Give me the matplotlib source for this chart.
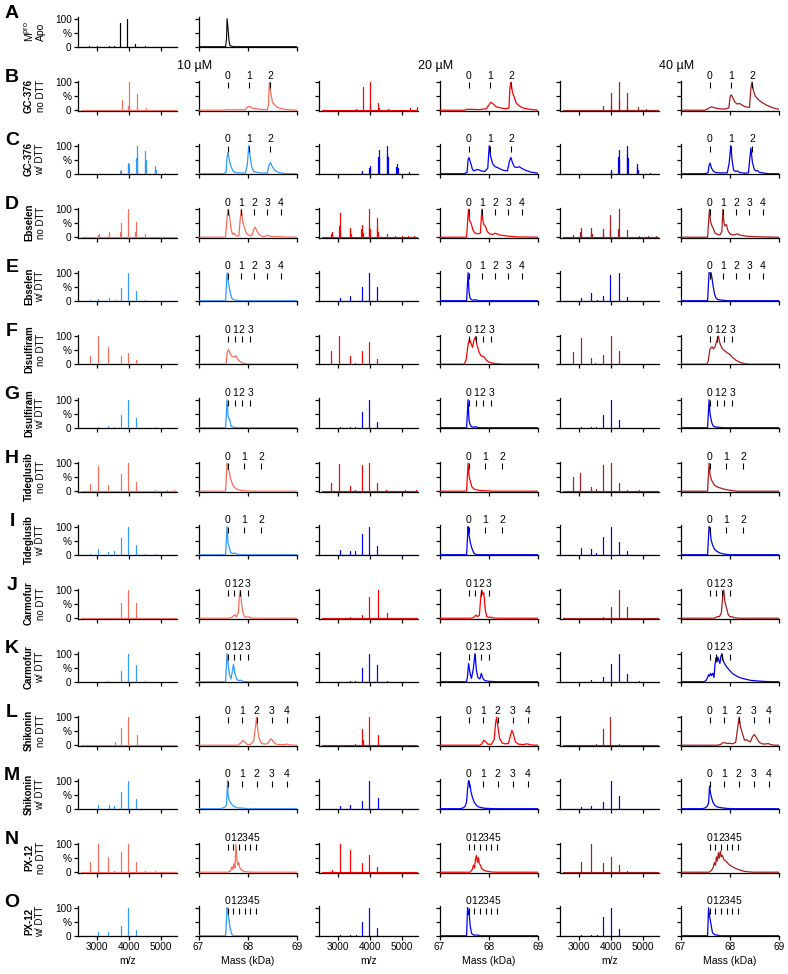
import matplotlib
matplotlib.use("Agg")
import matplotlib.pyplot as plt

plt.rcParams["font.family"] = ["Liberation Sans", "DejaVu Sans"]
plt.rcParams["mathtext.fontset"] = "custom"
plt.rcParams["mathtext.rm"] = "Liberation Sans"

# ---- m/z sticks: (m/z, rel. intensity %) ; deconvoluted: (mass kDa, %) ----
A_mz = [(2740, 1), (3000, 4), (3362, 2), (3531, 2), (3728, 85), (3937, 100), (4197, 11), (4500, 1)]
A_ms = [(67.0, 0), (67.55, 0), (67.57, 30), (67.58, 100), (67.6, 65), (67.62, 20), (67.64, 4), (67.66, 3), (67.7, 0), (69.0, 0)]

# GC-376 no DTT
B_mz10 = [(2700, 1), (3560, 2), (3783, 35), (3985, 14), (4000, 100), (4245, 58), (4260, 10), (4550, 8), (4900, 2), (5200, 1)]
B_ms10 = [(67.0, 0), (67.5, 0), (67.58, 2), (67.65, 1), (67.95, 2), (68.0, 12), (68.04, 14), (68.08, 8), (68.15, 6), (68.25, 3),
          (68.4, 2), (68.42, 20), (68.44, 100), (68.46, 70), (68.5, 30), (68.55, 18), (68.6, 10), (68.7, 5), (68.8, 2), (69.0, 0)]
B_mz20 = [(2900, 1), (3580, 5), (3783, 84), (4000, 100), (4020, 14), (4261, 27), (4280, 8), (4580, 3), (4900, 2), (5261, 8), (5493, 10)]
B_ms20 = [(67.0, 0), (67.5, 0), (67.55, 3), (67.65, 3), (67.8, 2), (67.95, 5), (68.0, 18), (68.04, 28), (68.08, 24), (68.15, 12),
          (68.25, 8), (68.35, 5), (68.41, 8), (68.43, 80), (68.45, 100), (68.48, 65), (68.52, 45), (68.56, 25), (68.62, 15),
          (68.7, 8), (68.8, 4), (68.9, 2), (69.0, 0)]
B_mz40 = [(2800, 1), (3768, 14), (4000, 20), (4014, 63), (4245, 35), (4261, 100), (4510, 15), (4522, 60), (4870, 12), (5116, 3)]
B_ms40 = [(67.0, 0), (67.5, 0), (67.55, 5), (67.6, 10), (67.63, 12), (67.7, 8), (67.8, 5), (67.9, 4), (67.98, 8), (68.01, 50),
          (68.03, 55), (68.06, 45), (68.1, 30), (68.15, 22), (68.2, 24), (68.25, 18), (68.32, 12), (68.4, 10), (68.43, 80),
          (68.45, 100), (68.48, 70), (68.52, 50), (68.58, 38), (68.65, 28), (68.75, 18), (68.85, 10), (68.95, 5), (69.0, 3)]

# GC-376 w/ DTT
C_mz10 = [(3730, 8), (3750, 14), (3965, 30), (3985, 37), (4005, 35), (4225, 55), (4245, 100), (4265, 60), (4500, 40),
          (4522, 81), (4540, 50), (4810, 15), (4826, 26), (4845, 12), (5150, 2)]
C_ms10 = [(67.0, 0), (67.5, 0), (67.56, 5), (67.58, 60), (67.6, 75), (67.62, 55), (67.65, 30), (67.7, 10), (67.75, 4), (67.85, 3),
          (67.95, 2), (67.99, 30), (68.02, 100), (68.05, 60), (68.08, 25), (68.12, 8), (68.2, 4), (68.3, 2), (68.4, 3),
          (68.43, 30), (68.46, 40), (68.5, 25), (68.55, 12), (68.62, 5), (68.7, 2), (68.8, 0), (69.0, 0)]
C_mz20 = [(3740, 5), (3754, 8), (3980, 20), (4000, 28), (4020, 22), (4255, 60), (4275, 86), (4295, 55), (4530, 70),
          (4551, 100), (4570, 60), (4835, 25), (4855, 35), (4875, 20), (5232, 5)]
C_ms20 = [(67.0, 0), (67.5, 0), (67.56, 5), (67.58, 50), (67.6, 58), (67.63, 40), (67.67, 15), (67.7, 10), (67.75, 14),
          (67.78, 15), (67.85, 10), (67.92, 8), (67.98, 20), (68.01, 100), (68.04, 60), (68.08, 35), (68.13, 25), (68.18, 22),
          (68.22, 18), (68.3, 12), (68.38, 10), (68.42, 45), (68.45, 58), (68.48, 40), (68.52, 25), (68.57, 22), (68.62, 25),
          (68.68, 18), (68.75, 12), (68.85, 6), (68.95, 3), (69.0, 2)]
C_mz40 = [(3990, 8), (4000, 14), (4230, 60), (4246, 86), (4262, 50), (4505, 70), (4522, 100), (4540, 55), (4810, 25),
          (4826, 35), (4845, 15), (5232, 3)]
C_ms40 = [(67.0, 0), (67.5, 0), (67.56, 4), (67.58, 30), (67.6, 38), (67.63, 20), (67.67, 8), (67.72, 4), (67.8, 3), (67.95, 3),
          (67.99, 40), (68.02, 100), (68.05, 45), (68.08, 12), (68.12, 8), (68.16, 10), (68.2, 4), (68.3, 2), (68.38, 3),
          (68.41, 60), (68.43, 92), (68.46, 40), (68.5, 15), (68.53, 10), (68.56, 12), (68.6, 5), (68.7, 2), (68.8, 0), (69.0, 0)]

# Ebselen no DTT
D_mz10 = [(2800, 1), (3040, 8), (3058, 12), (3362, 15), (3377, 20), (3725, 20), (3739, 49), (3970, 25), (3986, 100),
          (4200, 20), (4217, 53), (4522, 12), (4800, 2)]
D_ms10 = [(67.0, 0), (67.55, 0), (67.58, 70), (67.6, 100), (67.63, 75), (67.66, 30), (67.69, 10), (67.72, 15), (67.76, 5),
          (67.82, 5), (67.85, 70), (67.87, 100), (67.9, 55), (67.94, 30), (67.98, 12), (68.02, 8), (68.08, 5), (68.12, 28),
          (68.15, 36), (68.19, 20), (68.24, 8), (68.3, 3), (68.36, 3), (68.4, 8), (68.44, 4), (68.5, 2), (68.6, 2), (68.75, 1), (69.0, 0)]
D_mz20 = [(2780, 12), (2797, 20), (2815, 8), (3040, 40), (3058, 85), (3075, 30), (3360, 25), (3377, 34), (3395, 12),
          (3735, 30), (3754, 44), (3770, 15), (3970, 40), (3986, 100), (4000, 30), (4215, 35), (4232, 67), (4250, 20),
          (4536, 10), (4800, 3), (5000, 3), (5200, 3), (5400, 3)]
D_ms20 = [(67.0, 0), (67.55, 0), (67.58, 80), (67.59, 100), (67.61, 60), (67.63, 55), (67.65, 45), (67.68, 25), (67.72, 15),
          (67.78, 12), (67.83, 15), (67.86, 100), (67.88, 60), (67.9, 45), (67.93, 40), (67.97, 20), (68.02, 12), (68.08, 10),
          (68.13, 14), (68.17, 12), (68.22, 8), (68.3, 6), (68.38, 4), (68.46, 3), (68.6, 1), (69.0, 0)]
D_mz40 = [(2812, 8), (3040, 20), (3058, 34), (3075, 12), (3360, 20), (3377, 32), (3395, 10), (3740, 15), (3754, 28),
          (3970, 30), (3986, 81), (4230, 30), (4246, 100), (4522, 26), (4899, 4), (5159, 3), (5406, 4)]
D_ms40 = [(67.0, 0), (67.55, 0), (67.58, 80), (67.59, 100), (67.61, 55), (67.64, 40), (67.67, 30), (67.7, 15), (67.75, 10),
          (67.8, 8), (67.84, 20), (67.86, 98), (67.88, 55), (67.9, 40), (67.93, 45), (67.97, 20), (68.02, 10), (68.08, 8),
          (68.12, 10), (68.16, 12), (68.2, 8), (68.28, 5), (68.38, 3), (68.5, 2), (68.7, 1), (69.0, 0)]

# Ebselen w/ DTT
E_mz10 = [(2780, 1), (3029, 5), (3362, 8), (3550, 2), (3739, 44), (3986, 100), (4217, 34), (4500, 1)]
E_ms10 = [(67.0, 0), (67.55, 0), (67.58, 100), (67.6, 75), (67.62, 50), (67.65, 25), (67.68, 8), (67.72, 3), (67.8, 1), (67.9, 0), (69.0, 0)]
E_mz20 = [(3058, 8), (3377, 16), (3754, 49), (3986, 100), (4232, 49)]
E_ms20 = [(67.0, 0), (67.55, 0), (67.58, 100), (67.6, 30), (67.62, 10), (67.65, 3), (67.7, 2), (67.73, 4), (67.76, 1), (67.8, 0), (69.0, 0)]
E_mz40 = [(3058, 11), (3377, 26), (3550, 3), (3754, 18), (3986, 91), (4246, 100), (4522, 13)]
E_ms40 = [(67.0, 0), (67.55, 0), (67.58, 100), (67.6, 98), (67.62, 100), (67.64, 80), (67.66, 55), (67.69, 25), (67.72, 10),
          (67.76, 4), (67.85, 2), (67.95, 0), (69.0, 0)]

# Disulfiram no DTT
F_mz10 = [(2783, 29), (3029, 100), (3348, 62), (3739, 29), (3986, 40), (4217, 14)]
F_ms10 = [(67.0, 0), (67.56, 0), (67.58, 40), (67.61, 53), (67.64, 38), (67.68, 28), (67.72, 25), (67.76, 30), (67.79, 20),
          (67.84, 10), (67.9, 4), (67.96, 2), (68.05, 0), (69.0, 0)]
F_mz20 = [(2783, 48), (3043, 100), (3362, 28), (3522, 5), (3754, 47), (3986, 79), (4232, 19)]
F_ms20 = [(67.0, 0), (67.5, 0), (67.54, 15), (67.58, 70), (67.61, 90), (67.64, 75), (67.67, 60), (67.7, 85), (67.73, 98),
          (67.76, 70), (67.8, 45), (67.84, 30), (67.9, 27), (67.95, 15), (68.0, 8), (68.07, 4), (68.15, 2), (68.3, 0), (69.0, 0)]
F_mz40 = [(2797, 44), (3058, 93), (3377, 21), (3500, 3), (3754, 33), (4000, 100), (4246, 47)]
F_ms40 = [(67.0, 0), (67.53, 0), (67.56, 10), (67.6, 55), (67.64, 62), (67.67, 55), (67.7, 62), (67.74, 85), (67.77, 100),
          (67.8, 75), (67.84, 58), (67.88, 50), (67.94, 42), (68.0, 35), (68.05, 25), (68.12, 15), (68.2, 7), (68.3, 2), (68.4, 0), (69.0, 0)]

# Disulfiram w/ DTT
G_mz10 = [(3029, 3), (3348, 6), (3536, 3), (3739, 44), (3986, 100), (4217, 34), (4826, 3)]
G_ms10 = [(67.0, 0), (67.55, 0), (67.58, 100), (67.6, 40), (67.62, 32), (67.64, 25), (67.66, 5), (67.7, 2), (67.75, 1), (67.8, 0), (69.0, 0)]
G_mz20 = [(3058, 2), (3377, 3), (3536, 3), (3754, 55), (3986, 100), (4232, 22)]
G_ms20 = [(67.0, 0), (67.55, 0), (67.58, 100), (67.6, 25), (67.62, 12), (67.65, 3), (67.7, 2), (67.74, 4), (67.77, 1), (67.8, 0), (69.0, 0)]
G_mz40 = [(3058, 3), (3377, 4), (3536, 2), (3754, 44), (4000, 100), (4246, 26)]
G_ms40 = [(67.0, 0), (67.55, 0), (67.58, 100), (67.6, 50), (67.62, 30), (67.64, 15), (67.67, 5), (67.7, 3), (67.8, 1), (67.9, 0), (69.0, 0)]

# Tideglusib no DTT
H_mz10 = [(2783, 26), (3029, 91), (3348, 22), (3739, 61), (3986, 100), (4232, 33), (4522, 2), (4826, 3), (5203, 4), (5420, 5)]
H_ms10 = [(67.0, 0), (67.55, 0), (67.58, 100), (67.6, 80), (67.62, 75), (67.65, 45), (67.68, 30), (67.72, 15), (67.77, 8),
          (67.85, 3), (67.95, 1), (68.1, 0), (69.0, 0)]
H_mz20 = [(2783, 28), (3043, 96), (3362, 20), (3522, 5), (3754, 95), (3986, 100), (4232, 29), (4522, 3), (5100, 3), (5450, 5)]
H_ms20 = [(67.0, 0), (67.55, 0), (67.58, 100), (67.6, 55), (67.63, 32), (67.66, 15), (67.7, 8), (67.75, 5), (67.8, 3),
          (67.9, 2), (68.0, 1), (68.1, 0), (69.0, 0)]
H_mz40 = [(2797, 49), (3043, 64), (3362, 14), (3536, 7), (3754, 94), (4000, 100), (4246, 28), (4500, 3), (4899, 3)]
H_ms40 = [(67.0, 0), (67.55, 0), (67.58, 100), (67.6, 60), (67.63, 40), (67.66, 30), (67.7, 20), (67.75, 15), (67.8, 12),
          (67.87, 8), (67.95, 5), (68.05, 2), (68.15, 0), (69.0, 0)]

# Tideglusib w/ DTT
I_mz10 = [(2783, 2), (3029, 19), (3348, 9), (3536, 12), (3739, 59), (3986, 100), (4217, 36), (4522, 2), (4826, 3)]
I_ms10 = [(67.0, 0), (67.55, 0), (67.58, 100), (67.6, 40), (67.62, 30), (67.65, 8), (67.69, 4), (67.73, 6), (67.77, 3), (67.85, 0), (69.0, 0)]
I_mz20 = [(3058, 17), (3377, 13), (3536, 13), (3754, 73), (3986, 100), (4232, 30)]
I_ms20 = [(67.0, 0), (67.55, 0), (67.58, 100), (67.59, 80), (67.61, 60), (67.63, 40), (67.66, 22), (67.7, 5), (67.75, 0), (69.0, 0)]
I_mz40 = [(3058, 23), (3377, 22), (3536, 5), (3754, 64), (4000, 100), (4246, 47), (4522, 12)]
I_ms40 = [(67.0, 0), (67.55, 0), (67.58, 100), (67.6, 95), (67.62, 55), (67.65, 35), (67.69, 20), (67.74, 12), (67.8, 6),
          (67.9, 2), (68.0, 0), (69.0, 0)]

# Carmofur no DTT
J_mz10 = [(3400, 1), (3739, 53), (3986, 100), (4232, 53), (4522, 2)]
J_ms10 = [(67.0, 0), (67.6, 0), (67.68, 3), (67.72, 10), (67.74, 12), (67.77, 5), (67.81, 20), (67.83, 80), (67.85, 100),
          (67.87, 60), (67.9, 20), (67.94, 5), (67.99, 4), (68.02, 5), (68.06, 1), (68.15, 0), (69.0, 0)]
J_mz20 = [(3377, 3), (3754, 11), (3986, 76), (4246, 100), (4551, 18)]
J_ms20 = [(67.0, 0), (67.65, 0), (67.7, 4), (67.74, 11), (67.77, 6), (67.81, 10), (67.84, 80), (67.86, 100), (67.88, 85),
          (67.9, 90), (67.93, 30), (67.96, 5), (68.0, 3), (68.04, 4), (68.1, 1), (68.2, 0), (69.0, 0)]
J_mz40 = [(3754, 6), (4000, 40), (4246, 100), (4522, 40)]
J_ms40 = [(67.0, 0), (67.68, 0), (67.72, 3), (67.75, 6), (67.79, 5), (67.83, 20), (67.86, 85), (67.88, 100), (67.9, 60),
          (67.93, 40), (67.97, 12), (68.01, 5), (68.04, 6), (68.08, 2), (68.2, 0), (69.0, 0)]

# Carmofur w/ DTT
K_mz10 = [(3348, 2), (3739, 38), (3986, 100), (4232, 60), (4522, 3)]
K_ms10 = [(67.0, 0), (67.55, 0), (67.58, 100), (67.6, 65), (67.63, 25), (67.66, 10), (67.69, 40), (67.71, 62), (67.74, 30),
          (67.77, 12), (67.8, 5), (67.84, 4), (67.86, 6), (67.9, 1), (68.0, 0), (69.0, 0)]
K_mz20 = [(3377, 2), (3536, 2), (3754, 49), (3986, 100), (4232, 59), (4551, 3)]
K_ms20 = [(67.0, 0), (67.55, 0), (67.57, 20), (67.59, 65), (67.62, 30), (67.65, 12), (67.69, 50), (67.72, 100), (67.75, 40),
          (67.78, 15), (67.82, 10), (67.85, 30), (67.88, 12), (67.92, 4), (67.98, 2), (68.05, 1), (68.15, 0), (69.0, 0)]
K_mz40 = [(3377, 5), (3754, 17), (4000, 64), (4246, 100), (4522, 26), (4899, 2)]
K_ms40 = [(67.0, 0), (67.48, 0), (67.52, 5), (67.55, 15), (67.57, 25), (67.59, 20), (67.61, 30), (67.63, 22), (67.66, 30),
          (67.68, 15), (67.7, 60), (67.72, 85), (67.74, 70), (67.76, 88), (67.78, 75), (67.8, 65), (67.82, 90), (67.84, 100),
          (67.86, 80), (67.88, 70), (67.91, 60), (67.95, 50), (68.0, 40), (68.05, 30), (68.12, 22), (68.2, 15), (68.3, 10),
          (68.42, 5), (68.55, 3), (68.7, 1), (68.85, 0), (69.0, 0)]

# Shikonin no DTT
L_mz10 = [(3377, 2), (3565, 12), (3768, 62), (3986, 100), (4246, 38), (4522, 1)]
L_ms10 = [(67.0, 0), (67.8, 0), (67.86, 8), (67.9, 17), (67.94, 12), (67.99, 3), (68.05, 2), (68.12, 15), (68.16, 70),
          (68.18, 100), (68.2, 60), (68.23, 25), (68.27, 8), (68.33, 4), (68.4, 5), (68.45, 18), (68.48, 23), (68.52, 12),
          (68.57, 4), (68.65, 2), (68.75, 2), (68.8, 4), (68.85, 1), (69.0, 0)]
L_mz20 = [(3522, 4), (3754, 58), (3770, 20), (3986, 100), (4246, 38)]
L_ms20 = [(67.0, 0), (67.82, 0), (67.86, 5), (67.9, 18), (67.94, 12), (67.98, 4), (68.05, 3), (68.11, 20), (68.14, 80),
          (68.16, 100), (68.19, 60), (68.22, 25), (68.27, 8), (68.33, 5), (68.4, 6), (68.44, 35), (68.47, 53), (68.5, 40),
          (68.54, 12), (68.6, 4), (68.7, 2), (68.77, 5), (68.8, 4), (68.85, 1), (69.0, 0)]
L_mz40 = [(3058, 2), (3377, 2), (3536, 3), (3754, 58), (3986, 100), (4246, 4)]
L_ms40 = [(67.0, 0), (67.75, 0), (67.82, 3), (67.85, 8), (67.9, 9), (67.95, 6), (68.0, 7), (68.06, 5), (68.12, 10), (68.16, 60),
          (68.19, 100), (68.22, 65), (68.26, 40), (68.3, 18), (68.34, 20), (68.38, 15), (68.42, 12), (68.46, 30), (68.5, 38),
          (68.54, 28), (68.6, 10), (68.66, 5), (68.72, 4), (68.78, 6), (68.84, 2), (68.92, 0), (69.0, 0)]

# Shikonin w/ DTT
M_mz10 = [(3029, 14), (3362, 15), (3536, 10), (3739, 60), (3986, 100), (4232, 33)]
M_ms10 = [(67.0, 0), (67.45, 0), (67.5, 3), (67.54, 6), (67.57, 15), (67.59, 100), (67.6, 50), (67.62, 32), (67.65, 22),
          (67.7, 10), (67.75, 6), (67.8, 3), (67.9, 2), (68.0, 0), (69.0, 0)]
M_mz20 = [(3058, 9), (3377, 12), (3754, 29), (3986, 100), (4246, 37)]
M_ms20 = [(67.0, 0), (67.42, 0), (67.48, 3), (67.52, 8), (67.55, 25), (67.57, 70), (67.59, 100), (67.6, 90), (67.62, 85),
          (67.64, 60), (67.67, 40), (67.7, 25), (67.75, 12), (67.8, 6), (67.9, 2), (68.0, 1), (68.1, 0), (69.0, 0)]
M_mz40 = [(3058, 5), (3377, 9), (3754, 23), (4000, 100), (4246, 45)]
M_ms40 = [(67.0, 0), (67.45, 0), (67.5, 3), (67.54, 8), (67.57, 20), (67.59, 80), (67.61, 55), (67.63, 40), (67.66, 22),
          (67.7, 12), (67.75, 6), (67.85, 3), (67.95, 1), (68.05, 0), (69.0, 0)]

# PX-12 no DTT
N_mz10 = [(2783, 35), (3029, 100), (3348, 56), (3536, 3), (3739, 72), (3986, 100), (4232, 35), (4522, 4), (4826, 3)]
N_ms10 = [(67.0, 0), (67.6, 0), (67.65, 5), (67.68, 20), (67.7, 10), (67.72, 30), (67.74, 15), (67.76, 100), (67.78, 40),
          (67.8, 25), (67.82, 35), (67.84, 15), (67.87, 8), (67.92, 3), (68.0, 1), (68.1, 0), (69.0, 0)]
N_mz20 = [(2797, 8), (3058, 100), (3377, 79), (3754, 33), (3986, 62), (4232, 17)]
N_ms20 = [(67.0, 0), (67.62, 0), (67.66, 8), (67.69, 25), (67.71, 15), (67.73, 45), (67.75, 60), (67.77, 35), (67.79, 52),
          (67.81, 30), (67.83, 25), (67.86, 12), (67.9, 7), (67.95, 4), (68.05, 1), (68.15, 0), (69.0, 0)]
N_mz40 = [(3058, 38), (3377, 100), (3754, 33), (4000, 56), (4246, 27), (4522, 3)]
N_ms40 = [(67.0, 0), (67.58, 0), (67.62, 5), (67.66, 15), (67.69, 35), (67.71, 25), (67.73, 55), (67.75, 40), (67.77, 70),
          (67.79, 50), (67.81, 75), (67.83, 55), (67.85, 60), (67.88, 45), (67.92, 40), (67.97, 30), (68.03, 22), (68.1, 15),
          (68.2, 8), (68.3, 3), (68.4, 1), (68.5, 0), (69.0, 0)]

# PX-12 w/ DTT
O_mz10 = [(3029, 13), (3348, 13), (3739, 34), (3986, 100), (4217, 21)]
O_ms10 = [(67.0, 0), (67.55, 0), (67.57, 60), (67.58, 100), (67.6, 85), (67.62, 55), (67.64, 30), (67.67, 8), (67.7, 0), (69.0, 0)]
O_mz20 = [(3058, 3), (3377, 3), (3550, 4), (3754, 48), (3986, 100), (4232, 26)]
O_ms20 = [(67.0, 0), (67.55, 0), (67.57, 100), (67.59, 75), (67.6, 90), (67.62, 40), (67.65, 8), (67.7, 2), (67.78, 2), (67.85, 0), (69.0, 0)]
O_mz40 = [(3058, 3), (3377, 3), (3550, 4), (3754, 65), (4000, 100), (4246, 24)]
O_ms40 = [(67.0, 0), (67.55, 0), (67.57, 100), (67.59, 70), (67.6, 60), (67.62, 40), (67.65, 10), (67.7, 3), (67.76, 2), (67.8, 0), (69.0, 0)]

# adduct marker positions (kDa) for each compound
marks_gc376 = [67.59, 68.03, 68.46]
marks_ebselen = [67.59, 67.86, 68.13, 68.40, 68.67]
marks_disulfiram = [67.59, 67.74, 67.88, 68.05]
marks_tideglusib = [67.59, 67.93, 68.27]
marks_carmofur = [67.59, 67.72, 67.85, 68.00]
marks_shikonin = [67.59, 67.88, 68.18, 68.49, 68.79]
marks_px12 = [67.59, 67.71, 67.82, 67.94, 68.05, 68.17]

drug_names = ["GC-376", "Ebselen", "Disulfiram", "Tideglusib", "Carmofur", "Shikonin", "PX-12"]
drug_marks = [marks_gc376, marks_ebselen, marks_disulfiram, marks_tideglusib, marks_carmofur, marks_shikonin, marks_px12]
dtt_labels = ["no DTT", "w/ DTT"]
conc_labels = ["10 µM", "20 µM", "40 µM"]
colors_nodtt = ["#FA6C5A", "#FF0000", "#A81D1D"]
colors_dtt = ["#2E9BFF", "#0000FF", "#0000E6"]

rows = [
    [(B_mz10, B_ms10), (B_mz20, B_ms20), (B_mz40, B_ms40)],
    [(C_mz10, C_ms10), (C_mz20, C_ms20), (C_mz40, C_ms40)],
    [(D_mz10, D_ms10), (D_mz20, D_ms20), (D_mz40, D_ms40)],
    [(E_mz10, E_ms10), (E_mz20, E_ms20), (E_mz40, E_ms40)],
    [(F_mz10, F_ms10), (F_mz20, F_ms20), (F_mz40, F_ms40)],
    [(G_mz10, G_ms10), (G_mz20, G_ms20), (G_mz40, G_ms40)],
    [(H_mz10, H_ms10), (H_mz20, H_ms20), (H_mz40, H_ms40)],
    [(I_mz10, I_ms10), (I_mz20, I_ms20), (I_mz40, I_ms40)],
    [(J_mz10, J_ms10), (J_mz20, J_ms20), (J_mz40, J_ms40)],
    [(K_mz10, K_ms10), (K_mz20, K_ms20), (K_mz40, K_ms40)],
    [(L_mz10, L_ms10), (L_mz20, L_ms20), (L_mz40, L_ms40)],
    [(M_mz10, M_ms10), (M_mz20, M_ms20), (M_mz40, M_ms40)],
    [(N_mz10, N_ms10), (N_mz20, N_ms20), (N_mz40, N_ms40)],
    [(O_mz10, O_ms10), (O_mz20, O_ms20), (O_mz40, O_ms40)],
]
letters = list("ABCDEFGHIJKLMNO")

MZ_LO, MZ_HI = 2500, 5500

# ---- layout in pixels ----
W, H = 788, 974
col_x = [78, 198.5, 319, 439.5, 560, 680.5]
ax_w, ax_h = 98.5, 30
row0, pitch = 47, 63.5
nrows = 15

fig = plt.figure(figsize=(W / 100, H / 100), dpi=100)


def stick_trace(peaks):
    xs, ys = [MZ_LO], [0]
    for x, h in sorted(peaks):
        xs += [x, x, x]
        ys += [0, h, 0]
    xs.append(MZ_HI)
    ys.append(0)
    return xs, ys


def make_ax(col, r, kind):
    ybot = row0 + pitch * r
    ax = fig.add_axes([col_x[col] / W, 1 - ybot / H, ax_w / W, ax_h / H])
    ax.spines[["top", "right"]].set_visible(False)
    ax.spines[["left", "bottom"]].set_linewidth(0.9)
    ax.set_ylim(-1, 106)
    ax.set_yticks([0, 50, 100])
    ax.set_yticklabels(["0", "%", "100"] if col == 0 else [])
    if kind == "mz":
        ax.set_xlim(2400, 5500)
        ax.set_xticks([3000, 4000, 5000])
    else:
        ax.set_xlim(67, 69)
        ax.set_xticks([67, 68, 69])
    if r == nrows - 1:
        ax.set_xlabel("m/z" if kind == "mz" else "Mass (kDa)", fontsize=7.5, labelpad=3)
    else:
        ax.set_xticklabels([])
    ax.tick_params(length=3, width=0.9, labelsize=7.2, pad=1.5)
    return ax


def row_text(r, line1, line2, bold=True):
    ybot = row0 + pitch * r
    yc = 1 - (ybot - ax_h / 2) / H
    fig.text(29 / W, yc, line1, rotation=90, fontsize=7.5 if not bold else 7,
             fontweight="bold" if bold else "normal", ha="center", va="center")
    fig.text(40.5 / W, yc, line2, rotation=90, fontsize=7.5 if not bold else 7, ha="center", va="center")
    fig.text(12 / W, 1 - (ybot - 28.3 - 5) / H, letters[r], fontsize=14, fontweight="bold",
             ha="center", va="center")


# row A: apo protein
ax = make_ax(0, 0, "mz")
xs, ys = stick_trace(A_mz)
ax.plot(xs, ys, color="black", lw=0.8, zorder=3)
ax = make_ax(1, 0, "ms")
ax.plot([p[0] for p in A_ms], [p[1] for p in A_ms], color="black", lw=0.8, zorder=3)
row_text(0, r"M$^{\mathrm{pro}}$", "Apo", bold=False)

for i, panels in enumerate(rows):
    r = i + 1
    drug = drug_names[i // 2]
    marks = drug_marks[i // 2]
    dtt = i % 2
    palette = colors_dtt if dtt else colors_nodtt
    for c, (mz, ms) in enumerate(panels):
        color = palette[c]
        ax = make_ax(2 * c, r, "mz")
        xs, ys = stick_trace(mz)
        ax.plot(xs, ys, color=color, lw=0.8, zorder=3)
        ax = make_ax(2 * c + 1, r, "ms")
        ax.plot([p[0] for p in ms], [p[1] for p in ms], color=color, lw=0.9, zorder=3)
        ax.vlines(marks, 79, 100, color="black", lw=0.8, clip_on=False, zorder=4)
        for k, m in enumerate(marks):
            ax.text(m, 112, str(k), ha="center", va="baseline", fontsize=7.5, clip_on=False)
    row_text(r, drug, dtt_labels[dtt])

for c, lab in enumerate(conc_labels):
    fig.text((col_x[2 * c + 1] - 3.5) / W, 1 - 66 / H, lab, fontsize=9, ha="center", va="center")

fig.savefig("out.png", dpi=100)
